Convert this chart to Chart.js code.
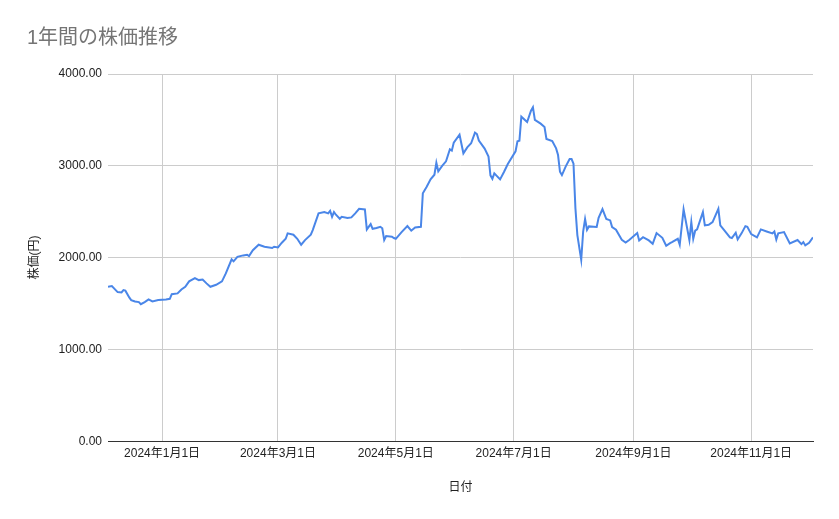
<!DOCTYPE html>
<html>
<head>
<meta charset="utf-8">
<script src="https://cdn.jsdelivr.net/npm/chart.js@4/dist/chart.umd.min.js"></script>
<style>
  body { margin: 0; background: #fff; }
  #wrap { width: 839px; height: 519px; position: relative; }
</style>
</head>
<body>
<div id="wrap"><canvas id="stockChart"></canvas></div>
<script>
const chartTitle = '1年間の株価推移';
const xTitle = '日付';
const yTitle = '株価(円)';

const startDate = '2023-12-04';
const endDate = '2024-12-03';

const dates = [
  '2023-12-04', '2023-12-06', '2023-12-08', '2023-12-09', '2023-12-11', '2023-12-12', '2023-12-13', '2023-12-15',
  '2023-12-16', '2023-12-18', '2023-12-20', '2023-12-21', '2023-12-23', '2023-12-25', '2023-12-27', '2023-12-30',
  '2024-01-03', '2024-01-05', '2024-01-06', '2024-01-09', '2024-01-11', '2024-01-13', '2024-01-15', '2024-01-18',
  '2024-01-20', '2024-01-22', '2024-01-24', '2024-01-26', '2024-01-29', '2024-02-01', '2024-02-03', '2024-02-06',
  '2024-02-07', '2024-02-09', '2024-02-12', '2024-02-14', '2024-02-15', '2024-02-17', '2024-02-20', '2024-02-23',
  '2024-02-27', '2024-02-28', '2024-03-01', '2024-03-03', '2024-03-05', '2024-03-06', '2024-03-09', '2024-03-11',
  '2024-03-13', '2024-03-15', '2024-03-18', '2024-03-19', '2024-03-22', '2024-03-25', '2024-03-27', '2024-03-28',
  '2024-03-29', '2024-03-30', '2024-03-31', '2024-04-02', '2024-04-03', '2024-04-06', '2024-04-08', '2024-04-10',
  '2024-04-12', '2024-04-15', '2024-04-16', '2024-04-18', '2024-04-19', '2024-04-21', '2024-04-23', '2024-04-24',
  '2024-04-25', '2024-04-26', '2024-04-29', '2024-04-30', '2024-05-01', '2024-05-04', '2024-05-07', '2024-05-09',
  '2024-05-11', '2024-05-14', '2024-05-15', '2024-05-17', '2024-05-19', '2024-05-21', '2024-05-22', '2024-05-23',
  '2024-05-25', '2024-05-27', '2024-05-29', '2024-05-30', '2024-05-31', '2024-06-03', '2024-06-05', '2024-06-07',
  '2024-06-09', '2024-06-11', '2024-06-12', '2024-06-13', '2024-06-16', '2024-06-18', '2024-06-19', '2024-06-20',
  '2024-06-21', '2024-06-24', '2024-06-26', '2024-06-28', '2024-07-02', '2024-07-03', '2024-07-04', '2024-07-05',
  '2024-07-08', '2024-07-10', '2024-07-11', '2024-07-12', '2024-07-15', '2024-07-17', '2024-07-18', '2024-07-21',
  '2024-07-23', '2024-07-24', '2024-07-25', '2024-07-26', '2024-07-28', '2024-07-30', '2024-07-31', '2024-08-01',
  '2024-08-02', '2024-08-03', '2024-08-05', '2024-08-06', '2024-08-07', '2024-08-08', '2024-08-09', '2024-08-13',
  '2024-08-14', '2024-08-16', '2024-08-18', '2024-08-20', '2024-08-21', '2024-08-23', '2024-08-26', '2024-08-28',
  '2024-08-30', '2024-09-03', '2024-09-04', '2024-09-06', '2024-09-09', '2024-09-11', '2024-09-13', '2024-09-16',
  '2024-09-18', '2024-09-20', '2024-09-21', '2024-09-24', '2024-09-25', '2024-09-27', '2024-09-30', '2024-10-01',
  '2024-10-02', '2024-10-03', '2024-10-04', '2024-10-07', '2024-10-08', '2024-10-10', '2024-10-12', '2024-10-15',
  '2024-10-16', '2024-10-18', '2024-10-21', '2024-10-22', '2024-10-24', '2024-10-25', '2024-10-27', '2024-10-29',
  '2024-10-30', '2024-11-01', '2024-11-04', '2024-11-06', '2024-11-09', '2024-11-12', '2024-11-13', '2024-11-14',
  '2024-11-15', '2024-11-18', '2024-11-21', '2024-11-25', '2024-11-27', '2024-11-28', '2024-11-29', '2024-12-01',
  '2024-12-03'
];

const prices = [
  1682, 1690, 1646, 1624, 1620, 1646, 1640, 1566,
  1537, 1522, 1515, 1493, 1515, 1544, 1522, 1537,
  1544, 1551, 1602, 1610, 1653, 1682, 1741, 1777,
  1755, 1762, 1719, 1682, 1704, 1741, 1828, 1981,
  1959, 2009, 2024, 2031, 2017, 2080, 2140, 2118,
  2104, 2118, 2111, 2162, 2205, 2264, 2249, 2205,
  2140, 2191, 2249, 2300, 2482, 2496, 2482, 2510,
  2445, 2496, 2467, 2423, 2445, 2431, 2438, 2482,
  2532, 2525, 2307, 2365, 2314, 2322, 2336, 2320,
  2191, 2235, 2227, 2213, 2205, 2278, 2343, 2293,
  2329, 2336, 2700, 2772, 2852, 2903, 3034, 2940,
  2998, 3049, 3180, 3165, 3252, 3339, 3136, 3201,
  3245, 3361, 3346, 3274, 3187, 3100, 2896, 2859,
  2918, 2852, 2932, 3019, 3158, 3267, 3274, 3535,
  3477, 3600, 3637, 3500, 3459, 3423, 3292, 3270,
  3190, 3117, 2935, 2899, 2994, 3074, 3074, 3023,
  2536, 2245, 1975, 2282, 2420, 2303, 2340, 2333,
  2434, 2529, 2420, 2405, 2333, 2303, 2194, 2165,
  2194, 2267, 2187, 2223, 2187, 2151, 2267, 2216,
  2129, 2158, 2169, 2205, 2140, 2525, 2191, 2387,
  2205, 2293, 2307, 2496, 2351, 2358, 2387, 2532,
  2351, 2300, 2220, 2213, 2271, 2198, 2264, 2343,
  2336, 2256, 2220, 2307, 2285, 2264, 2285, 2198,
  2264, 2278, 2155, 2191, 2147, 2169, 2133, 2162,
  2220
];

const tickDates = ['2024-01-01', '2024-03-01', '2024-05-01', '2024-07-01', '2024-09-01', '2024-11-01'];
const tickLabels = ['2024年1月1日', '2024年3月1日', '2024年5月1日', '2024年7月1日', '2024年9月1日', '2024年11月1日'];

const yTicks = [0, 1000, 2000, 3000, 4000];

// days since the first date, used for the linear x scale
function dayOf(d) {
  return (Date.parse(d) - Date.parse(startDate)) / 86400000;
}

const points = dates.map((d, i) => ({ x: dayOf(d), y: prices[i] }));

const fontFamily = "'Liberation Sans', Arial, 'Noto Sans CJK JP', sans-serif";

const config = {
  type: 'line',
  data: {
    datasets: [{
      label: yTitle,
      data: points,
      borderColor: '#4a86e8',
      borderWidth: 2,
      pointRadius: 0,
      tension: 0,
      fill: false
    }]
  },
  options: {
    responsive: true,
    maintainAspectRatio: false,
    animation: false,
    layout: { padding: { top: 20, left: 27, right: 26, bottom: 0 } },
    plugins: {
      legend: { display: false },
      tooltip: { enabled: false },
      title: {
        display: true,
        text: chartTitle,
        align: 'start',
        color: '#757575',
        font: { family: fontFamily, size: 20, weight: 'normal' },
        padding: { top: 6, bottom: 24 }
      }
    },
    scales: {
      x: {
        type: 'linear',
        min: dayOf(startDate),
        max: dayOf(endDate),
        afterBuildTicks: (scale) => {
          scale.ticks = tickDates.map(d => ({ value: dayOf(d) }));
        },
        ticks: {
          autoSkip: false,
          maxRotation: 0,
          padding: 5,
          color: '#222',
          font: { family: fontFamily, size: 12 },
          callback: (value, index) => tickLabels[index]
        },
        grid: { color: '#cccccc', drawTicks: false },
        border: { display: true, color: '#333333', width: 1 },
        title: {
          display: true,
          text: xTitle,
          color: '#222',
          font: { family: fontFamily, size: 12 },
          padding: { top: 15, bottom: 24 }
        }
      },
      y: {
        min: 0,
        max: 4000,
        afterBuildTicks: (scale) => {
          scale.ticks = yTicks.map(v => ({ value: v }));
        },
        afterFit: (scale) => { scale.width = 81; },
        ticks: {
          padding: 6,
          color: '#222',
          font: { family: fontFamily, size: 12 },
          callback: (value) => Number(value).toFixed(2)
        },
        grid: {
          drawTicks: false,
          color: (ctx) => (ctx.tick && ctx.tick.value === 0 ? '#333333' : '#cccccc')
        },
        border: { display: false },
        title: {
          display: true,
          text: yTitle,
          color: '#222',
          font: { family: fontFamily, size: 12 },
          padding: { top: 0, bottom: 0 }
        }
      }
    }
  }
};

const stockChart = new Chart(document.getElementById('stockChart'), config);
</script>
</body>
</html>
